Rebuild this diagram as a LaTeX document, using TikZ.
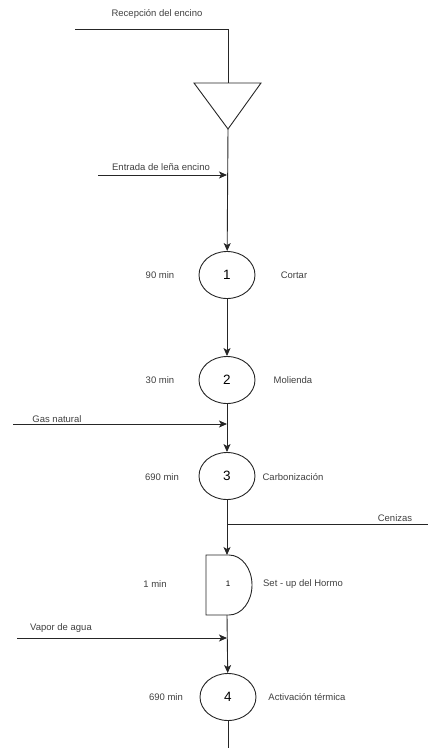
\documentclass[tikz,border=0pt]{standalone}
\usepackage{fontspec}
\setmainfont{Liberation Sans}
\usetikzlibrary{shapes.geometric,arrows.meta}
\begin{document}
\begin{tikzpicture}[x=1pt,y=-1pt,
 line/.style={draw=black!85, line width=0.9pt},
 arr/.style={line, -{Stealth[length=8pt,width=7pt,inset=2pt]}},
 op/.style={ellipse, draw=black!85, line width=0.9pt, minimum width=56pt, minimum height=47pt, inner sep=0pt, font=\fontsize{13.5}{15}\selectfont},
 lbl/.style={font=\fontsize{9.5}{11}\selectfont, text=black!75, inner sep=0pt}]
\useasboundingbox (0,0) rectangle (428,748);
% reception and storage
\coordinate (rstart) at (75,29);
\coordinate (rcorner) at (228,29);
\coordinate (ttop) at (228,83);
\coordinate (tbot) at (228,129);
\draw[line] (194,83) -- (261,83) -- (tbot) -- cycle;
\draw[line] (rstart) -- (rcorner) -- (ttop);
\node[lbl] (lrec) at (157,14) {Recepción del encino};
% entrada
\coordinate (e1) at (98,175);
\coordinate (e2) at (227,175);
\draw[arr] (e1) -- (e2);
\node[lbl] (lent) at (161,167) {Entrada de leña encino};
% operations
\node[op] (p1) at (227,275) {1};
\node[op] (p2) at (227,380) {2};
\node[op] (p3) at (227,476) {3};
\node[op] (p4) at (228,697) {4};
\draw[arr] (tbot) -- (p1);
\draw[arr] (p1) -- (p2);
\draw[arr] (p2) -- (p3);
% gas
\coordinate (g1) at (13,424);
\coordinate (g2) at (227,424);
\draw[arr] (g1) -- (g2);
\node[lbl] (lgas) at (57,419) {Gas natural};
% cenizas
\coordinate (c1) at (227,524);
\coordinate (c2) at (428,524);
\draw[line] (c1) -- (c2);
\node[lbl] (lcen) at (395,518) {Cenizas};
% delay
\coordinate (dtop) at (227,555);
\coordinate (dbot) at (227,615);
\draw[line] (206,555) -- (229,555) arc[start angle=-90, end angle=90, x radius=23, y radius=30] -- (206,615) -- cycle;
\node[font=\fontsize{8}{10}\selectfont, inner sep=0pt] (d1) at (228,584) {1};
\draw[arr] (p3) -- (dtop);
% vapor
\coordinate (v1) at (17,638);
\coordinate (v2) at (227,638);
\draw[arr] (v1) -- (v2);
\node[lbl] (lvap) at (61,628) {Vapor de agua};
\draw[arr] (dbot) -- (p4);
\coordinate (fin) at (228,748);
\draw[line] (p4) -- (fin);
% labels
\node[lbl] (t1) at (160,275) {90 min};
\node[lbl] (n1) at (294,275) {Cortar};
\node[lbl] (t2) at (160,380) {30 min};
\node[lbl] (n2) at (293,380) {Molienda};
\node[lbl] (t3) at (162,477) {690 min};
\node[lbl] (n3) at (293,477) {Carbonización};
\node[lbl] (td) at (155,584) {1 min};
\node[lbl] (nd) at (303,584) {Set - up del Hormo};
\node[lbl] (t4) at (166,697) {690 min};
\node[lbl] (n4) at (307,697) {Activación térmica};
\end{tikzpicture}
\end{document}
